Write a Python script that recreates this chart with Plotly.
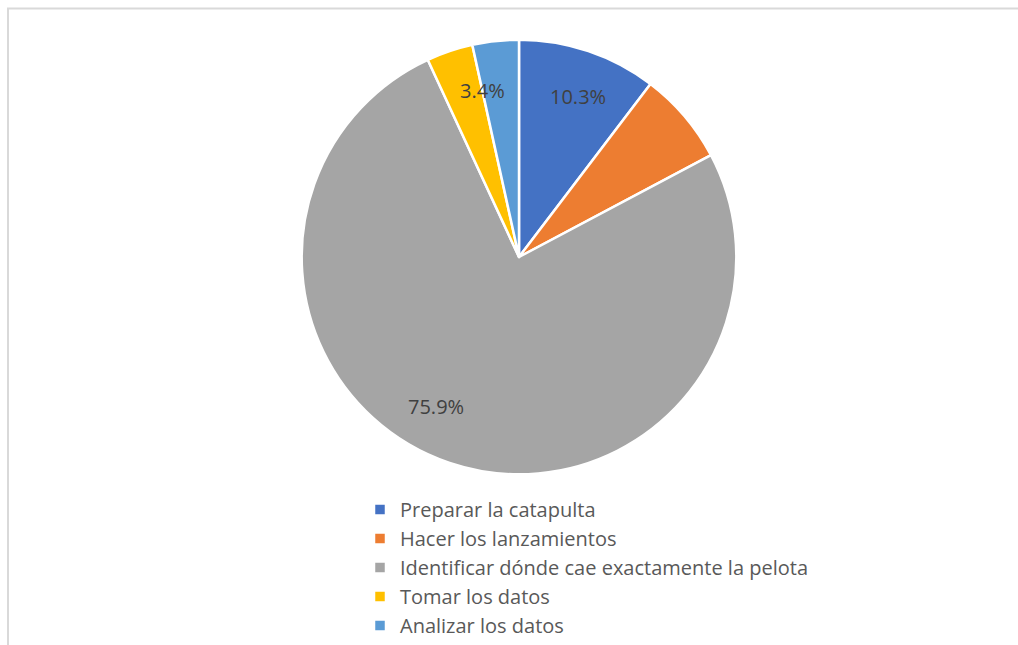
import math
import plotly.graph_objects as go

# Survey answers: which step of the catapult activity was hardest
categories = [
    "Preparar la catapulta",
    "Hacer los lanzamientos",
    "Identificar dónde cae exactamente la pelota",
    "Tomar los datos",
    "Analizar los datos",
]
counts = [3, 2, 22, 1, 1]
colors = ["#4472C4", "#ED7D31", "#A5A5A5", "#FFC000", "#5B9BD5"]
# Only some slices carry a percentage label; the shift nudges a label
# away from the slice's mid-angle (degrees, clockwise)
show_label = [True, False, True, True, False]
label_shift = [1.6, 0.0, 10.2, 6.3, 0.0]

W, H = 1018, 645
total = sum(counts)
cx, cy, r = 519, 259, 219

fig = go.Figure(
    go.Pie(
        labels=categories,
        values=counts,
        sort=False,
        direction="clockwise",
        rotation=0,
        marker=dict(colors=colors, line=dict(color="white", width=2.5)),
        textinfo="none",
        hoverinfo="label+percent",
        domain=dict(
            x=[(cx - r) / W, (cx + r) / W],
            y=[1 - (cy + r) / H, 1 - (cy - r) / H],
        ),
    )
)

# Percentage labels placed along each slice's mid-angle
annotations = []
cum = 0
for c, s, sh in zip(counts, show_label, label_shift):
    mid = (cum + c / 2) / total * 360 + sh
    cum += c
    if not s:
        continue
    d = 0.785 * r
    px = cx + d * math.sin(math.radians(mid))
    py = cy - d * math.cos(math.radians(mid))
    annotations.append(
        dict(
            x=px / W,
            y=1 - py / H,
            xref="paper",
            yref="paper",
            text=f"{100 * c / total:.1f}%",
            showarrow=False,
            font=dict(size=20, color="#404040", family="'Open Sans', sans-serif"),
            xanchor="center",
            yanchor="middle",
        )
    )

fig.update_layout(
    width=W,
    height=H,
    margin=dict(l=0, r=0, t=0, b=0),
    paper_bgcolor="white",
    font=dict(family="'Open Sans', sans-serif", color="#595959", size=20),
    showlegend=True,
    legend=dict(
        x=360 / W,
        y=1 - 494 / H,
        xanchor="left",
        yanchor="top",
        font=dict(size=20, color="#595959"),
        itemwidth=30,
        tracegroupgap=0,
        bgcolor="rgba(0,0,0,0)",
    ),
    annotations=annotations,
    shapes=[
        dict(
            type="rect",
            xref="paper",
            yref="paper",
            x0=8 / W,
            x1=1.05,
            y0=-0.05,
            y1=1 - 8.5 / H,
            line=dict(color="#D9D9D9", width=2),
            fillcolor="rgba(0,0,0,0)",
        )
    ],
)

fig.write_html("out.html")
